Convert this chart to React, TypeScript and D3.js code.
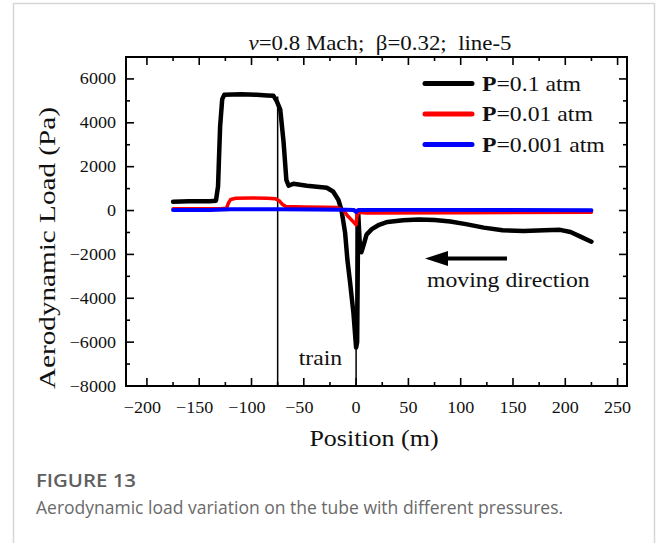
import React, { useEffect, useRef } from 'react';
import * as d3 from 'd3';

// P = 0.1 atm
const blackPos = [-175, -160, -140, -134, -132, -131, -130, -128, -126, -110, -95, -85, -79, -76, -72.5, -69.3, -66.7, -64.5, -60, -47, -28, -22, -17, -14, -10.5, -8.3, -5.7, -2.5, 0, 1, 2, 3.5, 5, 7, 10, 15, 22, 30, 45, 60, 75, 90, 105, 122, 140, 160, 180, 195, 205, 215, 225];
const blackVal = [400, 420, 420, 450, 1100, 2500, 3850, 5080, 5280, 5300, 5280, 5250, 5230, 5000, 4600, 3100, 1400, 1130, 1220, 1130, 1040, 870, 490, 30, -1020, -2260, -3300, -4700, -6250, -6000, -100, -1500, -1900, -1600, -1100, -850, -650, -520, -440, -410, -430, -500, -620, -780, -900, -930, -900, -880, -980, -1200, -1420];

// P = 0.01 atm
const redPos = [-175, -130, -124, -122, -120, -115, -100, -85, -77, -73, -70, -67, -50, -30, -18, -12, -8, -4, 0, 1, 2, 10, 100, 225];
const redVal = [80, 80, 100, 350, 500, 560, 570, 560, 540, 420, 260, 180, 160, 150, 140, 0, -250, -450, -650, -200, -80, -110, -100, -80];

// P = 0.001 atm
const bluePos = [-175, -140, -120, -75, -40, -10, -2, 0, 2, 50, 225];
const blueVal = [20, 20, 60, 60, 50, 40, 20, -60, 20, 30, 10];

const seriesNames = ['0.1', '0.01', '0.001'];
const seriesColors = ['#000000', '#ff0000', '#0000ff'];

const xTicks = [-200, -150, -100, -50, 0, 50, 100, 150, 200, 250];
const xMinor = [-175, -125, -75, -25, 25, 75, 125, 175, 225];
const yTicks = [-8000, -6000, -4000, -2000, 0, 2000, 4000, 6000];
const yMinor = [-7000, -5000, -3000, -1000, 1000, 3000, 5000];

const trainMarks = [-75, 0];
const trainTops = [5200, 0];

const serif = '"Liberation Serif", "Times New Roman", serif';
const sans = '"Open Sans", "Noto Sans", sans-serif';
const SX = 1.13; // the original figure's lettering is a bit wide

const App = () => {
  const ref = useRef<SVGSVGElement>(null);

  useEffect(() => {
    document.body.style.margin = '0';
    const svg = d3.select(ref.current);
    svg.selectAll('*').remove();

    const left = 126, right = 627, top = 57, bottom = 386;
    const x = d3.scaleLinear().domain([-220, 259]).range([left, right]);
    const y = d3.scaleLinear().domain([-8000, 7000]).range([bottom, top]);

    // serif text, widened horizontally
    const wide = (tx: number, ty: number, size: number, anchor = 'start', sx = SX) =>
      svg.append('text')
        .attr('transform', `translate(${tx},${ty}) scale(${sx},1)`)
        .attr('text-anchor', anchor)
        .attr('font-family', serif)
        .attr('font-size', size)
        .attr('fill', '#111');

    // outer card border
    svg.append('rect')
      .attr('x', 13.5).attr('y', 3.5).attr('width', 641).attr('height', 600)
      .attr('fill', 'none').attr('stroke', '#d6d6d6').attr('stroke-width', 1.5);

    // title
    const title = wide(380, 50, 21, 'middle', 1.09).style('white-space', 'pre');
    title.append('tspan').attr('font-style', 'italic').text('v');
    title.append('tspan').text('=0.8 Mach;  β=0.32;  line-5');

    // curves
    const line = d3.line<[number, number]>().x((d) => x(d[0])).y((d) => y(d[1]));
    const series = [
      d3.zip(blackPos, blackVal),
      d3.zip(redPos, redVal),
      d3.zip(bluePos, blueVal),
    ];
    const widths = [4.5, 3.5, 4];

    // train markers
    svg.selectAll('.train')
      .data(trainMarks)
      .enter()
      .append('line')
      .attr('x1', (d) => x(d)).attr('x2', (d) => x(d))
      .attr('y1', (d, i) => y(trainTops[i])).attr('y2', bottom)
      .attr('stroke', '#000').attr('stroke-width', 1.5);

    series.forEach((s, i) => {
      svg.append('path')
        .attr('d', line(s as [number, number][]))
        .attr('fill', 'none')
        .attr('stroke', seriesColors[i])
        .attr('stroke-width', widths[i])
        .attr('stroke-linejoin', 'round')
        .attr('stroke-linecap', 'round');
    });

    // frame
    svg.append('rect')
      .attr('x', left).attr('y', top).attr('width', right - left).attr('height', bottom - top)
      .attr('fill', 'none').attr('stroke', '#000').attr('stroke-width', 2);

    const tickG = svg.append('g').attr('stroke', '#000').attr('stroke-width', 1.6);
    const addX = (vals: number[], len: number) => {
      vals.forEach((v) => {
        tickG.append('line').attr('x1', x(v)).attr('x2', x(v)).attr('y1', bottom).attr('y2', bottom - len);
        tickG.append('line').attr('x1', x(v)).attr('x2', x(v)).attr('y1', top).attr('y2', top + len);
      });
    };
    const addY = (vals: number[], len: number) => {
      vals.forEach((v) => {
        tickG.append('line').attr('x1', left).attr('x2', left + len).attr('y1', y(v)).attr('y2', y(v));
        tickG.append('line').attr('x1', right).attr('x2', right - len).attr('y1', y(v)).attr('y2', y(v));
      });
    };
    addX(xTicks, 8);
    addX(xMinor, 4);
    addY(yTicks, 8);
    addY(yMinor, 4);

    const fmt = (v: number) => (v < 0 ? '\u2212' + Math.abs(v) : String(v));
    xTicks.forEach((v) => {
      wide(x(v) - (v < 0 ? 4.5 : 0), 413, 16, 'middle').text(fmt(v));
    });
    yTicks.forEach((v) => {
      wide(116, y(v) + 5.5, 16, 'end').text(fmt(v));
    });

    wide(374, 446, 23, 'middle').text('Position (m)');
    svg.append('text')
      .attr('transform', `translate(55,248) rotate(-90)`)
      .attr('text-anchor', 'middle')
      .attr('font-family', serif).attr('font-size', 24)
      .attr('textLength', 282).attr('lengthAdjust', 'spacingAndGlyphs')
      .attr('fill', '#111')
      .text('Aerodynamic Load (Pa)');

    // legend
    const legY = [83.5, 114, 144.5];
    seriesNames.forEach((n, i) => {
      svg.append('line')
        .attr('x1', 425).attr('x2', 472).attr('y1', legY[i]).attr('y2', legY[i])
        .attr('stroke', seriesColors[i]).attr('stroke-width', 5).attr('stroke-linecap', 'round');
      const t = wide(482, legY[i] + 7, 21);
      t.append('tspan').attr('font-weight', 'bold').text('P');
      t.append('tspan').text(`=${n} atm`);
    });

    // annotations
    wide(320.5, 365, 21, 'middle').text('train');
    svg.append('line')
      .attr('x1', 507).attr('x2', 444).attr('y1', 258.5).attr('y2', 258.5)
      .attr('stroke', '#000').attr('stroke-width', 4);
    svg.append('path')
      .attr('d', 'M425,258.5 L448,251 L448,266 Z')
      .attr('fill', '#000');
    wide(427, 287, 21).text('moving direction');

    // caption
    svg.append('text')
      .attr('x', 36).attr('y', 487)
      .attr('font-family', sans).attr('font-size', 18).attr('font-weight', 600)
      .attr('textLength', 100).attr('lengthAdjust', 'spacingAndGlyphs')
      .attr('fill', '#5f5f5f')
      .text('FIGURE 13');
    svg.append('text')
      .attr('x', 36).attr('y', 514)
      .attr('font-family', sans).attr('font-size', 17.5)
      .attr('fill', '#6a6a6a')
      .text('Aerodynamic load variation on the tube with different pressures.');
  }, []);

  return <svg ref={ref} width={659} height={543} style={{ display: 'block', background: '#fff' }} />;
};

export default App;
